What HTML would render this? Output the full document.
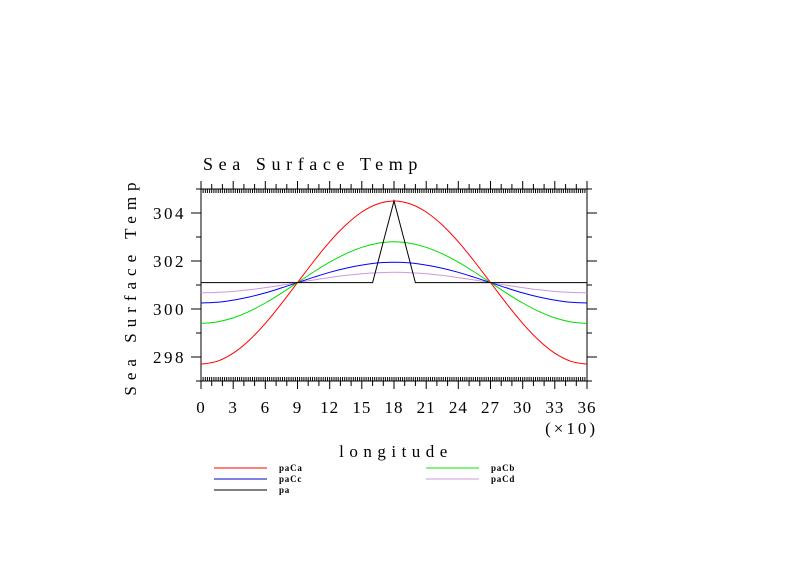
<!DOCTYPE html>
<html><head><meta charset="utf-8"><style>
body{margin:0;background:#fff}
svg text{font-family:"Liberation Serif",serif;fill:#000}
</style></head><body>
<svg id="chart" width="789" height="558" xmlns="http://www.w3.org/2000/svg">
<rect width="789" height="558" fill="#fff"/>
<text x="203" y="170" font-size="18" letter-spacing="5.6">Sea Surface Temp</text>
<text transform="translate(136,286) rotate(-90)" text-anchor="middle" font-size="17" letter-spacing="6">Sea Surface Temp</text>
<text x="396" y="457" text-anchor="middle" font-size="17" letter-spacing="5.5">longitude</text>
<text x="598" y="434" text-anchor="end" font-size="17" letter-spacing="3">(×10)</text>
<g id="axes"></g>
<g id="series"></g>
<g id="legend"></g>
</svg>
<script>
const xTickLabels=["0","3","6","9","12","15","18","21","24","27","30","33","36"];
const yTickLabels=["298","300","302","304"];
const sampleLon=[0,15,30,45,60,75,90,105,120,135,150,165,180,195,210,225,240,255,270,285,300,315,330,345,360];
const paCa=[297.7,297.82,298.16,298.7,299.4,300.22,301.1,301.98,302.8,303.5,304.04,304.38,304.5,304.38,304.04,303.5,302.8,301.98,301.1,300.22,299.4,298.7,298.16,297.82,297.7];
const paCb=[299.4,299.46,299.63,299.9,300.25,300.66,301.1,301.54,301.95,302.3,302.57,302.74,302.8,302.74,302.57,302.3,301.95,301.54,301.1,300.66,300.25,299.9,299.63,299.46,299.4];
const paCc=[300.25,300.28,300.37,300.5,300.67,300.88,301.1,301.32,301.53,301.7,301.83,301.92,301.95,301.92,301.83,301.7,301.53,301.32,301.1,300.88,300.67,300.5,300.37,300.28,300.25];
const paCd=[300.67,300.69,300.73,300.8,300.89,300.99,301.1,301.21,301.31,301.4,301.47,301.51,301.53,301.51,301.47,301.4,301.31,301.21,301.1,300.99,300.89,300.8,300.73,300.69,300.67];
const paLon=[0,160,180,200,360];
const pa=[301.1,301.1,304.5,301.1,301.1];
const NS="http://www.w3.org/2000/svg";
const X0=201,X1=587,Y0=381,Y1=189,xMin=0,xMax=360,yMin=297,yMax=305;
function sx(v){return X0+(v-xMin)/(xMax-xMin)*(X1-X0);}
function sy(v){return Y0-(v-yMin)/(yMax-yMin)*(Y0-Y1);}
function mk(tag,attrs,parent){const e=document.createElementNS(NS,tag);for(const k in attrs)e.setAttribute(k,attrs[k]);parent.appendChild(e);return e;}
const axes=document.getElementById('axes');
const frame=mk('rect',{x:X0,y:Y1,width:X1-X0,height:Y0-Y1,fill:'none',stroke:'#000','stroke-width':1},axes);


let d='';
for(let v=0;v<=360;v+=2){const x=sx(v).toFixed(1);d+=`M${x},${Y0}v-4M${x},${Y1}v4`;}
for(let v=0;v<=360;v+=10){const x=sx(v).toFixed(1);const L=(v%30===0)?8:5;d+=`M${x},${Y0}v${L}M${x},${Y1}v-${L}`;}
for(let v=297;v<=305;v+=1){const y=sy(v).toFixed(1);const L=(v%2===0)?10:5;d+=`M${X0},${y}h-${L}M${X1},${y}h${L}`;}
const ticks=mk('path',{d:d,stroke:'#000','stroke-width':1,fill:'none'},axes);


xTickLabels.forEach((t,i)=>{const tx=mk('text',{x:sx(i*30),y:413,'text-anchor':'middle','font-size':17,'letter-spacing':1},axes);tx.textContent=t;

});
yTickLabels.forEach(t=>{const tx=mk('text',{x:186,y:sy(+t)+6,'text-anchor':'end','font-size':17,'letter-spacing':2.5},axes);tx.textContent=t;

});
const ser=document.getElementById('series');
function smoothPath(P){let s=`M${P[0][0].toFixed(1)},${P[0][1].toFixed(1)}`;
for(let i=0;i<P.length-1;i++){const p0=P[Math.max(0,i-1)],p1=P[i],p2=P[i+1],p3=P[Math.min(P.length-1,i+2)];
const c1=[p1[0]+(p2[0]-p0[0])/6,p1[1]+(p2[1]-p0[1])/6],c2=[p2[0]-(p3[0]-p1[0])/6,p2[1]-(p3[1]-p1[1])/6];
s+=`C${c1[0].toFixed(1)},${c1[1].toFixed(1)} ${c2[0].toFixed(1)},${c2[1].toFixed(1)} ${p2[0].toFixed(1)},${p2[1].toFixed(1)}`;}
return s;}
function line(xs,ys,color,name,smooth){const P=xs.map((x,i)=>[sx(x),sy(ys[i])]);
const dd=smooth?smoothPath(P):'M'+P.map(p=>p[0].toFixed(1)+','+p[1].toFixed(1)).join('L');
const p=mk('path',{d:dd,fill:'none',stroke:color,'stroke-width':1},ser);

}
line(sampleLon,paCd,'#cc99dd','series-paCd',true);
line(sampleLon,paCc,'#0000ff','series-paCc',true);
line(sampleLon,paCb,'#00dd00','series-paCb',true);
line(sampleLon,paCa,'#ff0000','series-paCa',true);
line(paLon,pa,'#000000','series-pa',false);
const lg=document.getElementById('legend');
const entries=[["paCa","#ff0000",214,468],["paCc","#0000cc",214,479],["pa","#000000",214,490],["paCb","#00ee00",426,468],["paCd","#cc99dd",426,479]];
entries.forEach(e=>{const g=mk('g',{},lg);


mk('line',{x1:e[2],x2:e[2]+53,y1:e[3],y2:e[3],stroke:e[1],'stroke-width':1},g);
const t=mk('text',{x:e[2]+65,y:e[3]+3,'font-size':9,'font-weight':'bold','letter-spacing':0.8},g);t.textContent=e[0];});
</script>
</body></html>
